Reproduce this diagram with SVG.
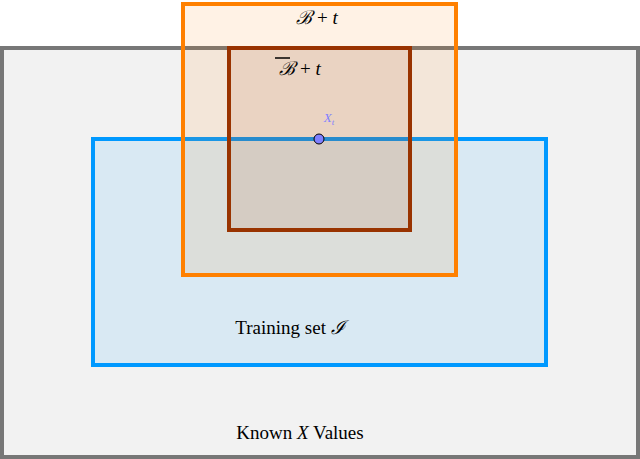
<svg xmlns="http://www.w3.org/2000/svg" width="640" height="459" viewBox="0 0 640 459">
<style>
.t{font-family:"Liberation Serif","DejaVu Serif",serif;font-size:19px;fill:#000}
.m{font-style:italic}
</style>
<rect width="640" height="459" fill="#fff"/>
<g id="known"><rect x="2" y="48" width="636" height="409" fill="#f2f2f2" stroke="#777" stroke-width="4"/>
<text class="t" x="300" y="439" text-anchor="middle">Known <tspan class="m">X</tspan> Values</text></g>
<g id="training"><rect x="93" y="139" width="453" height="226" fill="#0099ff" fill-opacity="0.1" stroke="#0099ff" stroke-width="4"/>
<text class="t" x="290" y="334" text-anchor="middle">Training set <tspan class="m">ℐ</tspan></text></g>
<g id="B"><rect x="183" y="4" width="273" height="271" fill="#ff8000" fill-opacity="0.1" stroke="#ff8000" stroke-width="4"/>
<text class="t" x="317" y="24" text-anchor="middle"><tspan class="m">ℬ</tspan> + <tspan class="m">t</tspan></text></g>
<g id="Bbar"><rect x="229" y="48" width="181" height="182" fill="#993300" fill-opacity="0.1" stroke="#993300" stroke-width="4"/>
<line x1="275" y1="58" x2="290" y2="58" stroke="#000" stroke-width="1.5"/>
<text class="t" x="300" y="75" text-anchor="middle"><tspan class="m">ℬ</tspan> + <tspan class="m">t</tspan></text></g>
<g id="connectors"></g>
<g id="Xt"><circle cx="319" cy="139" r="5" fill="#7f7fff" stroke="#000" stroke-width="1"/>
<text x="329" y="122" text-anchor="middle" font-family="Liberation Serif,serif" font-style="italic" font-size="13" fill="#7f7fff">X<tspan font-size="9" dy="3">t</tspan></text></g>
</svg>
